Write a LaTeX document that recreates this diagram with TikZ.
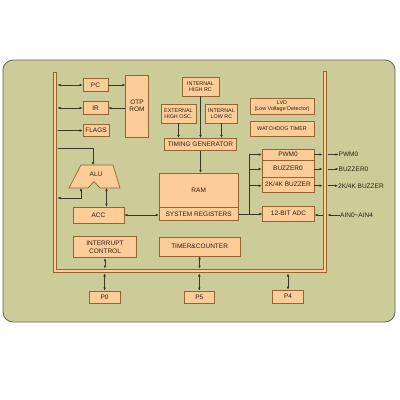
\documentclass[tikz,border=0pt]{standalone}
\usepackage{fontspec}
\setmainfont{Liberation Sans}
\usetikzlibrary{arrows.meta}
\definecolor{bgc}{RGB}{204,204,153}
\definecolor{bgd}{RGB}{100,100,85}
\definecolor{boxf}{RGB}{252,204,153}
\definecolor{boxd}{RGB}{150,100,50}
\definecolor{wire}{RGB}{55,55,40}
\definecolor{txt}{RGB}{45,30,15}
\tikzset{
  blk/.style={draw=boxd, fill=boxf, line width=0.7pt, inner sep=0pt, text=txt,
    font=\fontsize{6.5}{7.5}\selectfont, align=center},
  sblk/.style={blk, font=\fontsize{5.4}{6}\selectfont},
  lbl/.style={inner sep=0pt, text=txt, font=\fontsize{6.5}{7.5}\selectfont, anchor=west},
  wln/.style={draw=wire, line width=0.55pt},
  uni/.style={wln, -{Latex[length=3pt,width=2.6pt]}},
  bi/.style={wln, {Latex[length=3pt,width=2.6pt]}-{Latex[length=3pt,width=2.6pt]}},
}
\begin{document}
\begin{tikzpicture}[x=1pt,y=-1pt]
\useasboundingbox (0,0) rectangle (400,400);
% background panel
\fill[white] (0,0) rectangle (400,400);
\draw[bgd, fill=bgc, line width=0.8pt, rounded corners=10pt] (3,60) rectangle (395,322);
% bus
\draw[boxd, line width=4.6pt, line join=miter] (55,72) -- (55,271) -- (325,271) -- (325,71);
\draw[boxf, line width=2.9pt, line join=miter] (55,72.8) -- (55,271) -- (325,271) -- (325,71.8);
\coordinate (bLx) at (57.5,0);
\coordinate (bRl) at (322.5,0);
\coordinate (bRr) at (327.5,0);
\coordinate (bBt) at (0,268.5);
\coordinate (bBb) at (0,273.5);
% left column
\node[blk, minimum width=25pt, minimum height=13.5pt] (pc) at (95.5,85) {PC};
\node[blk, minimum width=25pt, minimum height=12.5pt] (ir) at (95.5,108) {IR};
\node[blk, minimum width=26pt, minimum height=12.5pt] (flags) at (96,130.5) {FLAGS};
\node[blk, minimum width=22.5pt, minimum height=62pt] (rom) at (137,106) {OTP\\ROM};
% oscillators
\node[sblk, minimum width=37pt, minimum height=19pt] (ihrc) at (200.5,86.5) {INTERNAL\\HIGH RC};
\node[sblk, minimum width=35pt, minimum height=19pt] (ext) at (178.5,113.5) {EXTERNAL\\HIGH OSC.};
\node[sblk, minimum width=31.5pt, minimum height=19pt] (ilrc) at (221.5,113.5) {INTERNAL\\LOW RC};
\node[blk, minimum width=72.5pt, minimum height=12.5pt] (tg) at (200.5,144.5) {TIMING GENERATOR};
\node[sblk, minimum width=64pt, minimum height=16pt] (lvd) at (282,106) {LVD\\(Low Voltage Detector)};
\node[sblk, minimum width=64pt, minimum height=15pt] (wdt) at (282,128.5) {WATCHDOG TIMER};
% ALU
\draw[boxd, fill=boxf, line width=0.7pt, line join=round]
  (81,165) -- (113,165) -- (120,188) -- (100,188) -- (94,181.5) -- (88,188) -- (69,188) -- cycle;
\node[inner sep=0pt, text=txt, font=\fontsize{6.5}{7.5}\selectfont] (alu) at (96,174) {ALU};
\coordinate (alutop) at (93,165);
\coordinate (alubl) at (81,188);
\coordinate (alubr) at (106.5,188);
\node[blk, minimum width=51pt, minimum height=16pt] (acc) at (98.5,215) {ACC};
% RAM
\node[blk, minimum width=79pt, minimum height=34pt] (ram) at (198.7,190.2) {RAM};
\node[blk, minimum width=79pt, minimum height=13.5pt] (sr) at (198.7,214) {SYSTEM REGISTERS};
% peripherals
\node[blk, minimum width=52pt, minimum height=11pt] (pwm) at (288,154.5) {PWM0};
\node[blk, minimum width=52pt, minimum height=17pt] (bz0) at (288,168.5) {BUZZER0};
\node[blk, minimum width=52pt, minimum height=15pt] (bz2) at (288,184.5) {2K/4K BUZZER};
\node[blk, minimum width=51.5pt, minimum height=15pt] (adc) at (288.5,213.5) {12-BIT ADC};
% bottom
\node[blk, minimum width=63.5pt, minimum height=21pt] (ic) at (105,247.3) {INTERRUPT\\CONTROL};
\node[blk, minimum width=81pt, minimum height=19pt] (tc) at (199.6,246.5) {TIMER\&COUNTER};
\node[blk, minimum width=31pt, minimum height=12pt] (p0) at (104.6,297) {P0};
\node[blk, minimum width=30pt, minimum height=12pt] (p5) at (199.3,297) {P5};
\node[blk, minimum width=31pt, minimum height=13pt] (p4) at (288,296.5) {P4};
% outside labels
\node[lbl] (lpwm) at (338.5,154.5) {PWM0};
\node[lbl] (lbz0) at (338.5,169) {BUZZER0};
\node[lbl] (lbz2) at (338,185.7) {2K/4K BUZZER};
\node[lbl] (lain) at (340,215) {AIN0\textasciitilde AIN4};
% connectors: left column
\draw[bi] (bLx |- pc.west) -- (pc.west);
\draw[uni] (pc.east) -- (pc.east -| rom.west);
\draw[bi] (bLx |- ir.west) -- (ir.west);
\draw[uni] (ir.east -| rom.west) -- (ir.east);
\draw[uni] (bLx |- flags.west) -- (flags.west);
\draw[uni] (bLx |- 0,148) -- (alutop |- 0,148) -- (alutop);
\draw[bi] (alubl) -- (alubl |- 0,198) -- (bLx |- 0,198);
\draw[bi] (acc.north -| alubr) -- (alubr);
\draw[bi] (acc.east) -- (acc.east -| sr.west);
% oscillators
\draw[uni] (ext.south) -- (ext.south |- tg.north);
\draw[uni] (ihrc.south) -- (ihrc.south |- tg.north);
\draw[uni] (ilrc.south) -- (ilrc.south |- tg.north);
\draw[uni] (tg.south) -- (tg.south |- ram.north);
% peripherals
\coordinate (br) at (249,0);
\draw[wln] (sr.east) -- (br |- sr.east) -- (br |- pwm.west);
\draw[uni] (br |- pwm.west) -- (pwm.west);
\draw[uni] (br |- 0,169) -- (bz0.west |- 0,169);
\draw[uni] (br |- 0,185.7) -- (bz2.west |- 0,185.7);
\draw[uni] (br |- sr.east) -- (adc.west |- sr.east);
\draw[uni] (pwm.east) -- (bRl |- pwm.east);
\draw[uni] (bz0.east |- 0,169) -- (bRl |- 0,169);
\draw[uni] (bz2.east |- 0,185.7) -- (bRl |- 0,185.7);
\draw[uni] (bRl |- 0,215) -- (adc.east |- 0,215);
\draw[uni] (bRr |- lpwm.west) -- (lpwm.west);
\draw[uni] (bRr |- lbz0.west) -- (lbz0.west);
\draw[uni] (bRr |- lbz2.west) -- (lbz2.west);
\draw[uni] (lain.west) -- (bRr |- lain.west);
% bottom
\draw[bi] (ic.south) -- (ic.south |- bBt);
\draw[bi] (p0.north |- bBb) -- (p0.north);
\draw[bi] (tc.south) -- (tc.south |- bBt);
\draw[bi] (p5.north |- bBb) -- (p5.north);
\draw[bi] (p4.north |- bBb) -- (p4.north);
\end{tikzpicture}
\end{document}
